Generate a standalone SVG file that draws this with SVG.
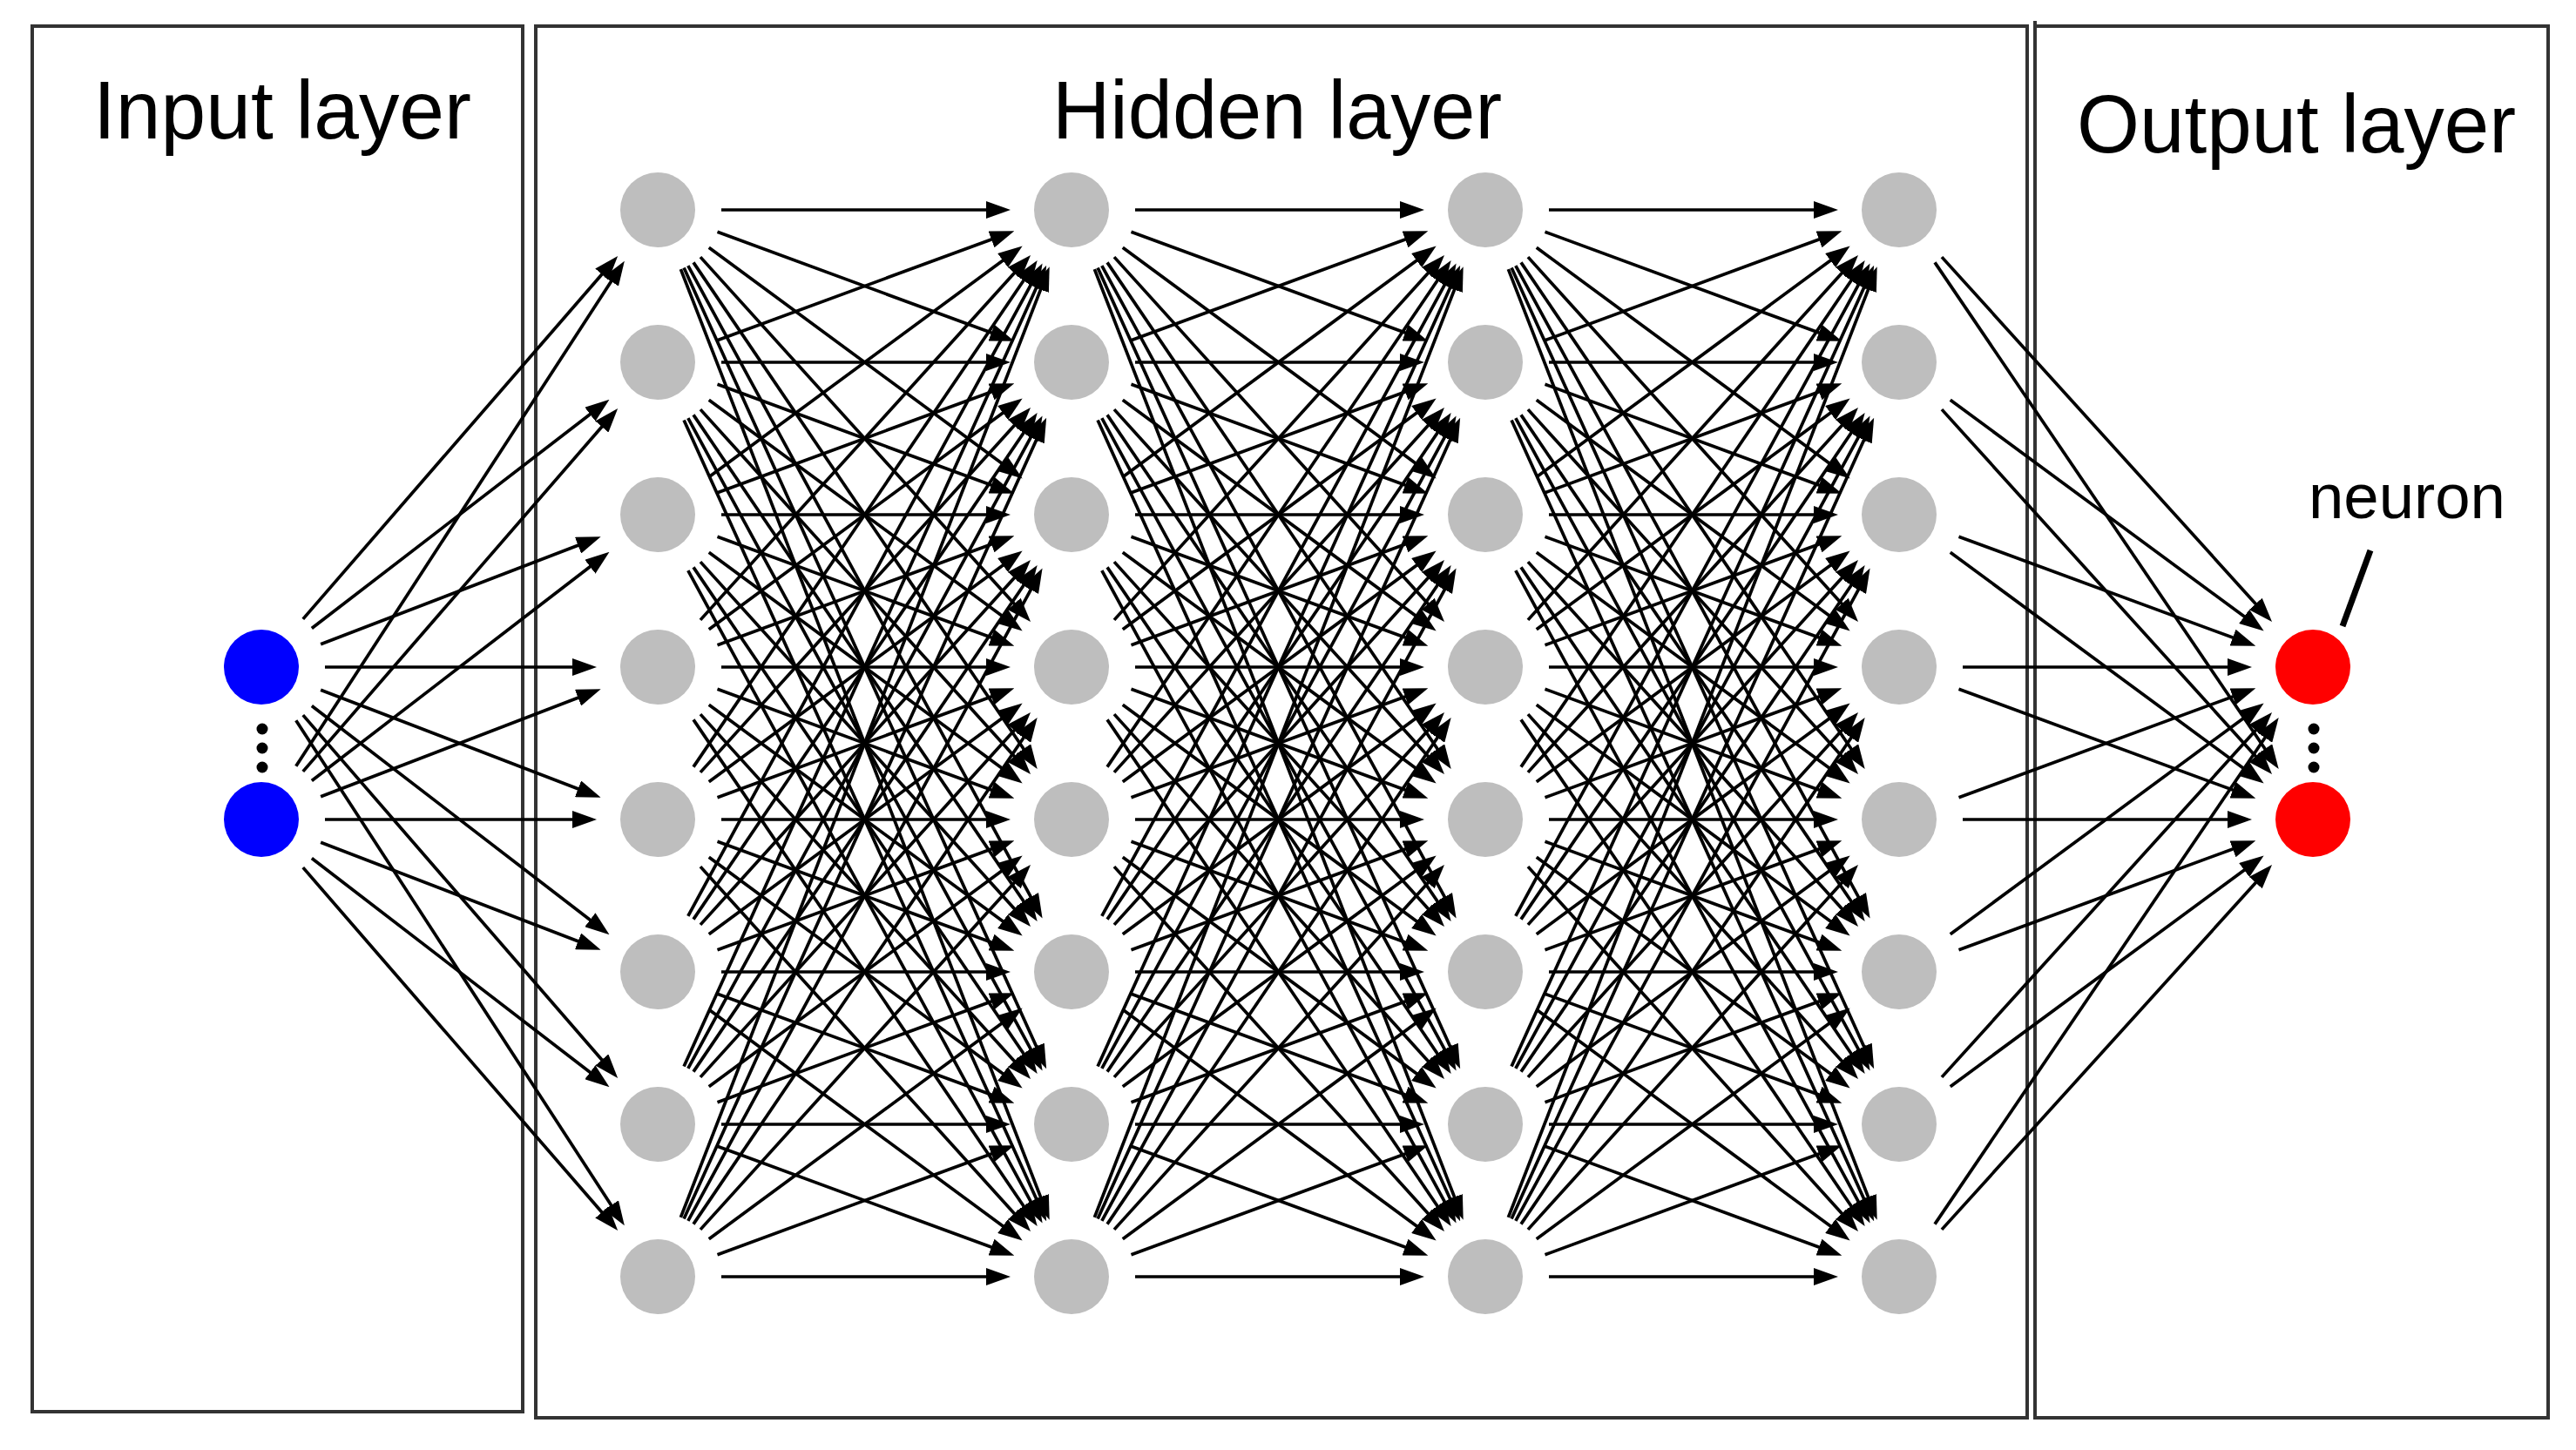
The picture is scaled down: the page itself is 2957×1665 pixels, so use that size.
<svg xmlns="http://www.w3.org/2000/svg" xmlns:xlink="http://www.w3.org/1999/xlink" width="2957" height="1665" viewBox="0 0 2957 1665">
<style>
.box{fill:none;stroke:#333;stroke-width:4}
.title{font-family:"Liberation Sans",Arial,sans-serif;font-size:94px;fill:#000}
.lbl{font-family:"Liberation Sans",Arial,sans-serif;font-size:72px;fill:#000}
.c{stroke:#000;stroke-width:3.7;fill:none;marker-end:url(#ah)}
.gray{fill:#bebebe}
.blue{fill:#0000ff}
.red{fill:#ff0000}
.dot{fill:#000}
</style>
<defs>
<marker id="ah" viewBox="0 0 28 20" refX="18" refY="10" markerWidth="28" markerHeight="20" markerUnits="userSpaceOnUse" orient="auto"><path d="M0,0 L28,10 L0,20 Z" fill="#000"/></marker>
<line id="h0" class="c" x1="73" y1="0" x2="395" y2="0"/>
<line id="hp1" class="c" x1="68.5" y1="25.24" x2="399.93" y2="147.34"/>
<line id="hp2" class="c" x1="58.77" y1="43.3" x2="410.6" y2="302.54"/>
<line id="hp3" class="c" x1="48.98" y1="54.13" x2="421.33" y2="465.68"/>
<line id="hp4" class="c" x1="40.99" y1="60.41" x2="430.08" y2="633.8"/>
<line id="hp5" class="c" x1="34.83" y1="64.16" x2="436.83" y2="804.69"/>
<line id="hp6" class="c" x1="30.09" y1="66.51" x2="442.03" y2="977.11"/>
<line id="hp7" class="c" x1="26.39" y1="68.06" x2="446.08" y2="1150.41"/>
<line id="hm1" class="c" x1="68.5" y1="-25.24" x2="399.93" y2="-147.34"/>
<line id="hm2" class="c" x1="58.77" y1="-43.3" x2="410.6" y2="-302.54"/>
<line id="hm3" class="c" x1="48.98" y1="-54.13" x2="421.33" y2="-465.68"/>
<line id="hm4" class="c" x1="40.99" y1="-60.41" x2="430.08" y2="-633.8"/>
<line id="hm5" class="c" x1="34.83" y1="-64.16" x2="436.83" y2="-804.69"/>
<line id="hm6" class="c" x1="30.09" y1="-66.51" x2="442.03" y2="-977.11"/>
<line id="hm7" class="c" x1="26.39" y1="-68.06" x2="446.08" y2="-1150.41"/>
<line id="in0" class="c" x1="73" y1="0" x2="375" y2="0"/>
<line id="inp1" class="c" x1="68.13" y1="26.21" x2="380.33" y2="146.28"/>
<line id="inp2" class="c" x1="57.86" y1="44.51" x2="391.59" y2="301.22"/>
<line id="inp3" class="c" x1="47.81" y1="55.16" x2="402.61" y2="464.55"/>
<line id="inp4" class="c" x1="39.78" y1="61.21" x2="411.4" y2="632.92"/>
<line id="inm1" class="c" x1="68.13" y1="-26.21" x2="380.33" y2="-146.28"/>
<line id="inm2" class="c" x1="57.86" y1="-44.51" x2="391.59" y2="-301.22"/>
<line id="inm3" class="c" x1="47.81" y1="-55.16" x2="402.61" y2="-464.55"/>
<line id="inm4" class="c" x1="39.78" y1="-61.21" x2="411.4" y2="-632.92"/>
</defs>
<rect width="2957" height="1665" fill="#fff"/>
<g id="box-input"><rect class="box" x="37" y="30" width="563" height="1591"/><text class="title" x="107" y="159" textLength="434" lengthAdjust="spacingAndGlyphs">Input layer</text></g>
<g id="box-hidden"><rect class="box" x="615" y="30" width="1712" height="1598"/><text class="title" x="1208" y="159" textLength="516" lengthAdjust="spacingAndGlyphs">Hidden layer</text></g>
<g id="box-output"><rect class="box" x="2336" y="30" width="589" height="1598"/><line x1="2336" y1="24" x2="2336" y2="32" stroke="#333" stroke-width="4"/><text class="title" x="2384" y="175" textLength="504" lengthAdjust="spacingAndGlyphs">Output layer</text></g>
<g id="connectors">
<use xlink:href="#inm3" x="300" y="766"/><use xlink:href="#inm2" x="300" y="766"/><use xlink:href="#inm1" x="300" y="766"/><use xlink:href="#in0" x="300" y="766"/><use xlink:href="#inp1" x="300" y="766"/><use xlink:href="#inp2" x="300" y="766"/><use xlink:href="#inp3" x="300" y="766"/><use xlink:href="#inp4" x="300" y="766"/>
<use xlink:href="#inm4" x="300" y="941"/><use xlink:href="#inm3" x="300" y="941"/><use xlink:href="#inm2" x="300" y="941"/><use xlink:href="#inm1" x="300" y="941"/><use xlink:href="#in0" x="300" y="941"/><use xlink:href="#inp1" x="300" y="941"/><use xlink:href="#inp2" x="300" y="941"/><use xlink:href="#inp3" x="300" y="941"/>
<g id="h1-h2" transform="translate(755,0)">
<use xlink:href="#h0" y="241"/><use xlink:href="#hp1" y="241"/><use xlink:href="#hp2" y="241"/><use xlink:href="#hp3" y="241"/><use xlink:href="#hp4" y="241"/><use xlink:href="#hp5" y="241"/><use xlink:href="#hp6" y="241"/><use xlink:href="#hp7" y="241"/>
<use xlink:href="#hm1" y="416"/><use xlink:href="#h0" y="416"/><use xlink:href="#hp1" y="416"/><use xlink:href="#hp2" y="416"/><use xlink:href="#hp3" y="416"/><use xlink:href="#hp4" y="416"/><use xlink:href="#hp5" y="416"/><use xlink:href="#hp6" y="416"/>
<use xlink:href="#hm2" y="591"/><use xlink:href="#hm1" y="591"/><use xlink:href="#h0" y="591"/><use xlink:href="#hp1" y="591"/><use xlink:href="#hp2" y="591"/><use xlink:href="#hp3" y="591"/><use xlink:href="#hp4" y="591"/><use xlink:href="#hp5" y="591"/>
<use xlink:href="#hm3" y="766"/><use xlink:href="#hm2" y="766"/><use xlink:href="#hm1" y="766"/><use xlink:href="#h0" y="766"/><use xlink:href="#hp1" y="766"/><use xlink:href="#hp2" y="766"/><use xlink:href="#hp3" y="766"/><use xlink:href="#hp4" y="766"/>
<use xlink:href="#hm4" y="941"/><use xlink:href="#hm3" y="941"/><use xlink:href="#hm2" y="941"/><use xlink:href="#hm1" y="941"/><use xlink:href="#h0" y="941"/><use xlink:href="#hp1" y="941"/><use xlink:href="#hp2" y="941"/><use xlink:href="#hp3" y="941"/>
<use xlink:href="#hm5" y="1116"/><use xlink:href="#hm4" y="1116"/><use xlink:href="#hm3" y="1116"/><use xlink:href="#hm2" y="1116"/><use xlink:href="#hm1" y="1116"/><use xlink:href="#h0" y="1116"/><use xlink:href="#hp1" y="1116"/><use xlink:href="#hp2" y="1116"/>
<use xlink:href="#hm6" y="1291"/><use xlink:href="#hm5" y="1291"/><use xlink:href="#hm4" y="1291"/><use xlink:href="#hm3" y="1291"/><use xlink:href="#hm2" y="1291"/><use xlink:href="#hm1" y="1291"/><use xlink:href="#h0" y="1291"/><use xlink:href="#hp1" y="1291"/>
<use xlink:href="#hm7" y="1466"/><use xlink:href="#hm6" y="1466"/><use xlink:href="#hm5" y="1466"/><use xlink:href="#hm4" y="1466"/><use xlink:href="#hm3" y="1466"/><use xlink:href="#hm2" y="1466"/><use xlink:href="#hm1" y="1466"/><use xlink:href="#h0" y="1466"/>
</g>
<g id="h2-h3" transform="translate(1230,0)">
<use xlink:href="#h0" y="241"/><use xlink:href="#hp1" y="241"/><use xlink:href="#hp2" y="241"/><use xlink:href="#hp3" y="241"/><use xlink:href="#hp4" y="241"/><use xlink:href="#hp5" y="241"/><use xlink:href="#hp6" y="241"/><use xlink:href="#hp7" y="241"/>
<use xlink:href="#hm1" y="416"/><use xlink:href="#h0" y="416"/><use xlink:href="#hp1" y="416"/><use xlink:href="#hp2" y="416"/><use xlink:href="#hp3" y="416"/><use xlink:href="#hp4" y="416"/><use xlink:href="#hp5" y="416"/><use xlink:href="#hp6" y="416"/>
<use xlink:href="#hm2" y="591"/><use xlink:href="#hm1" y="591"/><use xlink:href="#h0" y="591"/><use xlink:href="#hp1" y="591"/><use xlink:href="#hp2" y="591"/><use xlink:href="#hp3" y="591"/><use xlink:href="#hp4" y="591"/><use xlink:href="#hp5" y="591"/>
<use xlink:href="#hm3" y="766"/><use xlink:href="#hm2" y="766"/><use xlink:href="#hm1" y="766"/><use xlink:href="#h0" y="766"/><use xlink:href="#hp1" y="766"/><use xlink:href="#hp2" y="766"/><use xlink:href="#hp3" y="766"/><use xlink:href="#hp4" y="766"/>
<use xlink:href="#hm4" y="941"/><use xlink:href="#hm3" y="941"/><use xlink:href="#hm2" y="941"/><use xlink:href="#hm1" y="941"/><use xlink:href="#h0" y="941"/><use xlink:href="#hp1" y="941"/><use xlink:href="#hp2" y="941"/><use xlink:href="#hp3" y="941"/>
<use xlink:href="#hm5" y="1116"/><use xlink:href="#hm4" y="1116"/><use xlink:href="#hm3" y="1116"/><use xlink:href="#hm2" y="1116"/><use xlink:href="#hm1" y="1116"/><use xlink:href="#h0" y="1116"/><use xlink:href="#hp1" y="1116"/><use xlink:href="#hp2" y="1116"/>
<use xlink:href="#hm6" y="1291"/><use xlink:href="#hm5" y="1291"/><use xlink:href="#hm4" y="1291"/><use xlink:href="#hm3" y="1291"/><use xlink:href="#hm2" y="1291"/><use xlink:href="#hm1" y="1291"/><use xlink:href="#h0" y="1291"/><use xlink:href="#hp1" y="1291"/>
<use xlink:href="#hm7" y="1466"/><use xlink:href="#hm6" y="1466"/><use xlink:href="#hm5" y="1466"/><use xlink:href="#hm4" y="1466"/><use xlink:href="#hm3" y="1466"/><use xlink:href="#hm2" y="1466"/><use xlink:href="#hm1" y="1466"/><use xlink:href="#h0" y="1466"/>
</g>
<g id="h3-h4" transform="translate(1705,0)">
<use xlink:href="#h0" y="241"/><use xlink:href="#hp1" y="241"/><use xlink:href="#hp2" y="241"/><use xlink:href="#hp3" y="241"/><use xlink:href="#hp4" y="241"/><use xlink:href="#hp5" y="241"/><use xlink:href="#hp6" y="241"/><use xlink:href="#hp7" y="241"/>
<use xlink:href="#hm1" y="416"/><use xlink:href="#h0" y="416"/><use xlink:href="#hp1" y="416"/><use xlink:href="#hp2" y="416"/><use xlink:href="#hp3" y="416"/><use xlink:href="#hp4" y="416"/><use xlink:href="#hp5" y="416"/><use xlink:href="#hp6" y="416"/>
<use xlink:href="#hm2" y="591"/><use xlink:href="#hm1" y="591"/><use xlink:href="#h0" y="591"/><use xlink:href="#hp1" y="591"/><use xlink:href="#hp2" y="591"/><use xlink:href="#hp3" y="591"/><use xlink:href="#hp4" y="591"/><use xlink:href="#hp5" y="591"/>
<use xlink:href="#hm3" y="766"/><use xlink:href="#hm2" y="766"/><use xlink:href="#hm1" y="766"/><use xlink:href="#h0" y="766"/><use xlink:href="#hp1" y="766"/><use xlink:href="#hp2" y="766"/><use xlink:href="#hp3" y="766"/><use xlink:href="#hp4" y="766"/>
<use xlink:href="#hm4" y="941"/><use xlink:href="#hm3" y="941"/><use xlink:href="#hm2" y="941"/><use xlink:href="#hm1" y="941"/><use xlink:href="#h0" y="941"/><use xlink:href="#hp1" y="941"/><use xlink:href="#hp2" y="941"/><use xlink:href="#hp3" y="941"/>
<use xlink:href="#hm5" y="1116"/><use xlink:href="#hm4" y="1116"/><use xlink:href="#hm3" y="1116"/><use xlink:href="#hm2" y="1116"/><use xlink:href="#hm1" y="1116"/><use xlink:href="#h0" y="1116"/><use xlink:href="#hp1" y="1116"/><use xlink:href="#hp2" y="1116"/>
<use xlink:href="#hm6" y="1291"/><use xlink:href="#hm5" y="1291"/><use xlink:href="#hm4" y="1291"/><use xlink:href="#hm3" y="1291"/><use xlink:href="#hm2" y="1291"/><use xlink:href="#hm1" y="1291"/><use xlink:href="#h0" y="1291"/><use xlink:href="#hp1" y="1291"/>
<use xlink:href="#hm7" y="1466"/><use xlink:href="#hm6" y="1466"/><use xlink:href="#hm5" y="1466"/><use xlink:href="#hm4" y="1466"/><use xlink:href="#hm3" y="1466"/><use xlink:href="#hm2" y="1466"/><use xlink:href="#hm1" y="1466"/><use xlink:href="#h0" y="1466"/>
</g>
<g id="h4-out" transform="translate(2180,0)">
<use xlink:href="#hp3" y="241"/><use xlink:href="#hp4" y="241"/>
<use xlink:href="#hp2" y="416"/><use xlink:href="#hp3" y="416"/>
<use xlink:href="#hp1" y="591"/><use xlink:href="#hp2" y="591"/>
<use xlink:href="#h0" y="766"/><use xlink:href="#hp1" y="766"/>
<use xlink:href="#hm1" y="941"/><use xlink:href="#h0" y="941"/>
<use xlink:href="#hm2" y="1116"/><use xlink:href="#hm1" y="1116"/>
<use xlink:href="#hm3" y="1291"/><use xlink:href="#hm2" y="1291"/>
<use xlink:href="#hm4" y="1466"/><use xlink:href="#hm3" y="1466"/>
</g>
</g>
<g id="input-nodes">
<g id="in-1"><circle class="blue" cx="300" cy="766" r="43"/></g>
<g id="in-2"><circle class="blue" cx="300" cy="941" r="43"/></g>
<g id="in-dots"><circle class="dot" cx="301" cy="837" r="6.5"/><circle class="dot" cx="301" cy="859" r="6.5"/><circle class="dot" cx="301" cy="881" r="6.5"/></g>
</g>
<g id="hidden-nodes">
<g id="h1-1"><circle class="gray" cx="755" cy="241" r="43"/></g>
<g id="h1-2"><circle class="gray" cx="755" cy="416" r="43"/></g>
<g id="h1-3"><circle class="gray" cx="755" cy="591" r="43"/></g>
<g id="h1-4"><circle class="gray" cx="755" cy="766" r="43"/></g>
<g id="h1-5"><circle class="gray" cx="755" cy="941" r="43"/></g>
<g id="h1-6"><circle class="gray" cx="755" cy="1116" r="43"/></g>
<g id="h1-7"><circle class="gray" cx="755" cy="1291" r="43"/></g>
<g id="h1-8"><circle class="gray" cx="755" cy="1466" r="43"/></g>
<g id="h2-1"><circle class="gray" cx="1230" cy="241" r="43"/></g>
<g id="h2-2"><circle class="gray" cx="1230" cy="416" r="43"/></g>
<g id="h2-3"><circle class="gray" cx="1230" cy="591" r="43"/></g>
<g id="h2-4"><circle class="gray" cx="1230" cy="766" r="43"/></g>
<g id="h2-5"><circle class="gray" cx="1230" cy="941" r="43"/></g>
<g id="h2-6"><circle class="gray" cx="1230" cy="1116" r="43"/></g>
<g id="h2-7"><circle class="gray" cx="1230" cy="1291" r="43"/></g>
<g id="h2-8"><circle class="gray" cx="1230" cy="1466" r="43"/></g>
<g id="h3-1"><circle class="gray" cx="1705" cy="241" r="43"/></g>
<g id="h3-2"><circle class="gray" cx="1705" cy="416" r="43"/></g>
<g id="h3-3"><circle class="gray" cx="1705" cy="591" r="43"/></g>
<g id="h3-4"><circle class="gray" cx="1705" cy="766" r="43"/></g>
<g id="h3-5"><circle class="gray" cx="1705" cy="941" r="43"/></g>
<g id="h3-6"><circle class="gray" cx="1705" cy="1116" r="43"/></g>
<g id="h3-7"><circle class="gray" cx="1705" cy="1291" r="43"/></g>
<g id="h3-8"><circle class="gray" cx="1705" cy="1466" r="43"/></g>
<g id="h4-1"><circle class="gray" cx="2180" cy="241" r="43"/></g>
<g id="h4-2"><circle class="gray" cx="2180" cy="416" r="43"/></g>
<g id="h4-3"><circle class="gray" cx="2180" cy="591" r="43"/></g>
<g id="h4-4"><circle class="gray" cx="2180" cy="766" r="43"/></g>
<g id="h4-5"><circle class="gray" cx="2180" cy="941" r="43"/></g>
<g id="h4-6"><circle class="gray" cx="2180" cy="1116" r="43"/></g>
<g id="h4-7"><circle class="gray" cx="2180" cy="1291" r="43"/></g>
<g id="h4-8"><circle class="gray" cx="2180" cy="1466" r="43"/></g>
</g>
<g id="output-nodes">
<g id="out-1"><circle class="red" cx="2655" cy="766" r="43"/></g>
<g id="out-2"><circle class="red" cx="2655" cy="941" r="43"/></g>
<g id="out-dots"><circle class="dot" cx="2656" cy="837" r="6.5"/><circle class="dot" cx="2656" cy="859" r="6.5"/><circle class="dot" cx="2656" cy="881" r="6.5"/></g>
</g>
<g id="neuron-label">
<text class="lbl" x="2650" y="595" textLength="226" lengthAdjust="spacingAndGlyphs">neuron</text>
<line x1="2721" y1="632" x2="2689" y2="719" stroke="#000" stroke-width="7"/>
</g>
</svg>
